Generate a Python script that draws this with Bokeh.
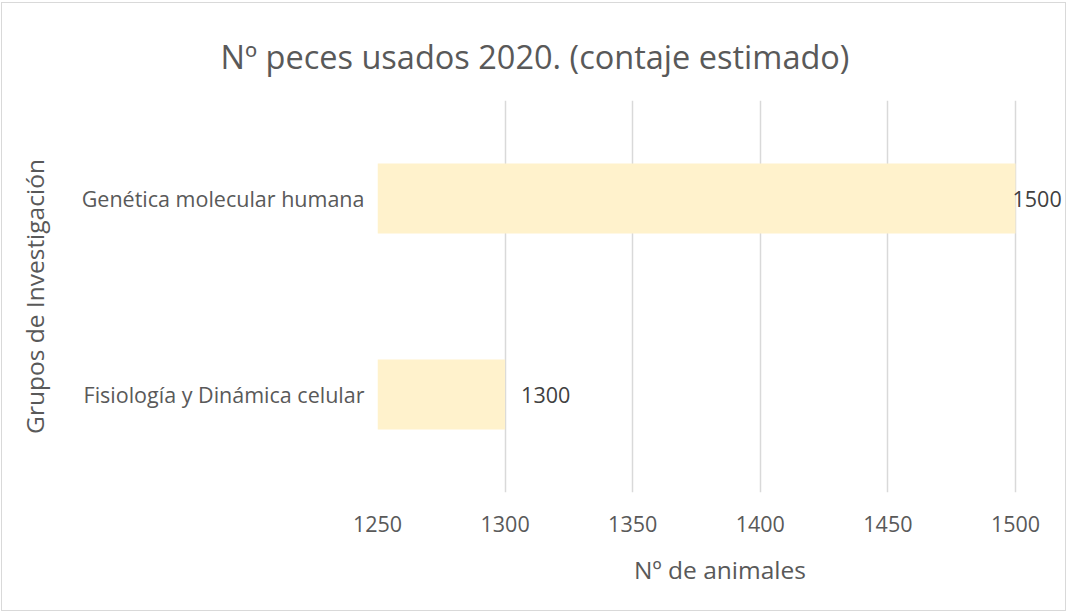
from bokeh.plotting import figure
from bokeh.models import ColumnDataSource, FactorRange, Range1d, LabelSet, FixedTicker, Title
from bokeh.core.properties import value
from bokeh.embed import file_html
from bokeh.resources import INLINE

# ---- data ----
groups = ["Fisiología y Dinámica celular", "Genética molecular humana"]
animals = [1300, 1500]
x_ticks = [1250, 1300, 1350, 1400, 1450, 1500]
title_text = "Nº peces usados 2020. (contaje estimado)"
x_label = "Nº de animales"
y_label = "Grupos de Investigación"

FONT = "Open Sans"
TXT = "#595959"

W, H = 1063, 607
FL, FR, FT, FB = 375, 3, 97, 118

x_min, x_max = x_ticks[0], x_ticks[-1]
px_per_unit = 638 / (x_max - x_min)
x_end = x_max + 47 / px_per_unit   # room right of the last gridline for the value label

p = figure(width=W, height=H, output_backend="svg", toolbar_location=None,
           y_range=FactorRange(factors=groups), x_range=Range1d(x_min, x_end),
           min_border_left=FL, min_border_right=FR, min_border_top=FT, min_border_bottom=FB)
p.styles = {"outline": "1px solid #d9d9d9", "margin-left": "2px", "margin-top": "3px"}
p.outline_line_color = None
p.background_fill_color = "white"
p.border_fill_color = "white"

offsets = [16 if v < x_max else -3 for v in animals]
src = ColumnDataSource(dict(y=groups, v=animals, label=[str(v) for v in animals], off=offsets))

p.hbar(y="y", left=x_min, right="v", height=0.357, source=src,
       fill_color="#FFF2CC", line_color=None)

labels = LabelSet(x="v", y="y", text="label", x_offset="off", source=src,
                  text_font=value(FONT), text_font_size=value("21.5px"), text_color="#404040",
                  text_baseline="middle", text_align="left")
p.add_layout(labels)

# grid
p.xgrid.grid_line_color = "#d9d9d9"
p.xgrid.grid_line_width = 1.5
p.ygrid.grid_line_color = None
p.xaxis.ticker = FixedTicker(ticks=x_ticks)

for ax in (p.xaxis, p.yaxis):
    ax.axis_line_color = None
    ax.major_tick_line_color = None
    ax.minor_tick_line_color = None
    ax.major_label_text_font = FONT
    ax.major_label_text_color = TXT
    ax.axis_label_text_font = FONT
    ax.axis_label_text_color = TXT
    ax.axis_label_text_font_style = "normal"

p.xaxis.major_label_text_font_size = "21.5px"
p.xaxis.major_label_standoff = 17
p.xaxis.axis_label = x_label
p.xaxis.axis_label_text_font_size = "24.5px"
p.xaxis.axis_label_standoff = 18

p.yaxis.major_label_text_font_size = "21.5px"
p.yaxis.major_label_standoff = 7
p.yaxis.axis_label = y_label
p.yaxis.axis_label_text_font_size = "24.5px"
p.yaxis.axis_label_standoff = 28

t = Title(text=title_text, align="left", offset=-157, standoff=43,
          text_font=FONT, text_font_size="32.5px", text_color=TXT, text_font_style="normal")
p.add_layout(t, "above")

open("out.html", "w").write(file_html(p, INLINE))
